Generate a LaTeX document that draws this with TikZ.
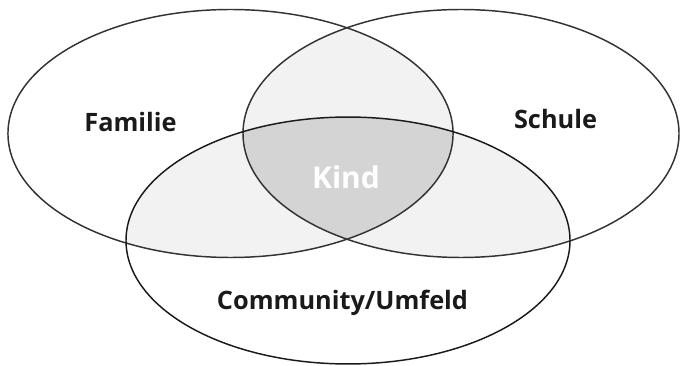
\documentclass[tikz,border=0pt]{standalone}
\usepackage{fontspec}
\setmainfont{Open Sans}
\usepackage{xcolor}
\definecolor{lightfill}{HTML}{F2F2F2}
\definecolor{darkfill}{HTML}{D4D4D4}
\definecolor{ringline}{HTML}{333333}
\definecolor{labeltext}{HTML}{1A1A1A}
\tikzstyle{ring} = [line width=1.1pt, draw=ringline]
\tikzstyle{setlabel} = [font=\bfseries\fontsize{19}{23}\selectfont, text=labeltext, anchor=base, inner sep=0pt]
\newcommand{\famring}{(230.5,133.5) ellipse [x radius=166.9pt, y radius=93pt]}
\newcommand{\schulring}{(461,133.5) ellipse [x radius=163.5pt, y radius=93pt]}
\newcommand{\umfeldring}{(348,240.5) ellipse [x radius=166.5pt, y radius=92.6pt]}

\begin{document}
\begin{tikzpicture}[x=0.75pt, y=-0.75pt]
\useasboundingbox (0,0) rectangle (680,366);

% Overlaps
\begin{scope} \clip \famring; \fill[lightfill] \schulring; \end{scope}
\begin{scope} \clip \famring; \fill[lightfill] \umfeldring; \end{scope}
\begin{scope} \clip \schulring; \fill[lightfill] \umfeldring; \end{scope}
\begin{scope} \clip \famring; \clip \schulring; \fill[darkfill] \umfeldring; \end{scope}

% Rings
\draw [ring] \famring;
\draw [ring] \schulring;
\draw [ring, draw=labeltext] \umfeldring;

% Labels
\node (familie) [setlabel] at (130.5,132) {Familie};
\node (schule) [setlabel] at (555.5,129) {Schule};
\node (kind) [setlabel, text=white, font=\bfseries\fontsize{22.5}{27}\selectfont] at (346,189) {Kind};
\node (umfeld) [setlabel] at (342.5,309.5) {Community/Umfeld};

\end{tikzpicture}
\end{document}
